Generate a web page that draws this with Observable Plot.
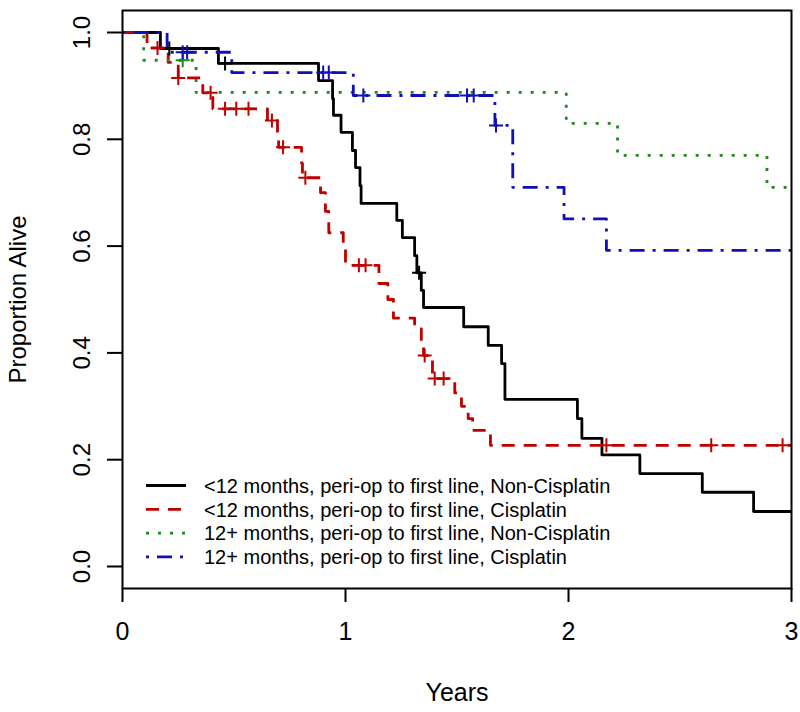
<!DOCTYPE html>
<html><head><meta charset="utf-8">
<script src="https://cdn.jsdelivr.net/npm/d3@7"></script>
<script src="https://cdn.jsdelivr.net/npm/@observablehq/plot@0.6"></script>
<style>
body{margin:0;background:#fff;}
#wrap{position:relative;width:800px;height:712px;}
#legend{position:absolute;left:0;top:0;pointer-events:none;}
</style></head><body><div id="wrap"></div>
<script>
// ---- data ----
const seriesNames = [
  "<12 months, peri-op to first line, Non-Cisplatin",
  "<12 months, peri-op to first line, Cisplatin",
  "12+ months, peri-op to first line, Non-Cisplatin",
  "12+ months, peri-op to first line, Cisplatin"
];
// series 1: <12 months, Non-Cisplatin
const s1Times = [0, 0.17, 0.43, 0.879, 0.942, 0.946, 0.98, 1.031, 1.045, 1.065, 1.07, 1.23, 1.255, 1.31, 1.32, 1.34, 1.35, 1.53, 1.64, 1.70, 1.715, 2.04, 2.06, 2.15, 2.32, 2.60, 2.83, 3.0];
const s1Surv  = [1, 0.970, 0.942, 0.910, 0.876, 0.845, 0.813, 0.779, 0.747, 0.713, 0.680, 0.648, 0.616, 0.582, 0.550, 0.517, 0.485, 0.449, 0.414, 0.380, 0.313, 0.277, 0.240, 0.209, 0.174, 0.139, 0.103, 0.103];
const s1CensT = [0.21, 0.46, 1.33];
const s1CensS = [0.970, 0.942, 0.550];
// series 2: <12 months, Cisplatin
const s2Times = [0, 0.11, 0.205, 0.25, 0.36, 0.405, 0.65, 0.695, 0.70, 0.803, 0.807, 0.888, 0.91, 0.925, 0.99, 1.0, 1.15, 1.19, 1.215, 1.31, 1.34, 1.35, 1.39, 1.49, 1.52, 1.55, 1.57, 1.65, 3.0];
const s2Surv  = [1, 0.971, 0.944, 0.915, 0.887, 0.857, 0.835, 0.810, 0.785, 0.755, 0.728, 0.700, 0.665, 0.625, 0.595, 0.564, 0.530, 0.500, 0.465, 0.445, 0.420, 0.395, 0.352, 0.325, 0.300, 0.277, 0.255, 0.227, 0.227];
const s2CensT = [0.157, 0.25, 0.395, 0.46, 0.51, 0.565, 0.67, 0.72, 0.82, 1.06, 1.09, 1.355, 1.40, 1.44, 2.17, 2.64, 2.96];
const s2CensS = [0.971, 0.915, 0.887, 0.857, 0.857, 0.857, 0.835, 0.785, 0.728, 0.564, 0.564, 0.395, 0.352, 0.352, 0.227, 0.227, 0.227];
// series 3: 12+ months, Non-Cisplatin
const s3Times = [0, 0.095, 0.33, 1.99, 2.22, 2.89, 3.0];
const s3Surv  = [1, 0.948, 0.888, 0.830, 0.770, 0.710, 0.710];
const s3CensT = [0.27];
const s3CensS = [0.948];
// series 4: 12+ months, Cisplatin
const s4Times = [0, 0.2, 0.49, 1.035, 1.67, 1.75, 1.98, 2.17, 3.0];
const s4Surv  = [1, 0.963, 0.925, 0.882, 0.826, 0.710, 0.651, 0.592, 0.592];
const s4CensT = [0.27, 0.29, 0.90, 0.925, 1.08, 1.545, 1.575, 1.675];
const s4CensS = [0.963, 0.963, 0.925, 0.925, 0.882, 0.882, 0.882, 0.826];

const xTicks = [0, 1, 2, 3];
const yTicks = [0, 0.2, 0.4, 0.6, 0.8, 1.0];

// ---- styles ----
const seriesColors = ["#000000", "#c00000", "#1e8a1e", "#1010b4"];
const seriesDash = [null, "13,9", "3,9", "3,8,15,8"];

const curves = [[s1Times, s1Surv], [s2Times, s2Surv], [s3Times, s3Surv], [s4Times, s4Surv]];
const censors = [[s1CensT, s1CensS], [s2CensT, s2CensS], [s3CensT, s3CensS], [s4CensT, s4CensS]];

const plusSymbol = {
  draw(ctx, size) {
    const r = Math.sqrt(size / Math.PI);
    ctx.moveTo(-r, 0); ctx.lineTo(r, 0);
    ctx.moveTo(0, -r); ctx.lineTo(0, r);
  }
};

const marks = [];
curves.forEach(([T, S], i) => {
  const rows = T.map((t, j) => ({t, s: S[j]}));
  marks.push(Plot.line(rows, {x: "t", y: "s", curve: "step-after", stroke: seriesColors[i],
    strokeWidth: 2.8, strokeDasharray: seriesDash[i] || undefined, strokeLinecap: "butt"}));
});
censors.forEach(([T, S], i) => {
  const rows = T.map((t, j) => ({t, s: S[j]}));
  marks.push(Plot.dot(rows, {x: "t", y: "s", symbol: plusSymbol, r: 7, stroke: seriesColors[i], strokeWidth: 2, fill: "none"}));
});

const chart = Plot.plot({
  width: 800, height: 712,
  marginLeft: 122, marginRight: 9, marginTop: 10, marginBottom: 124,
  style: {fontFamily: "'Liberation Sans', Arial, sans-serif", fontSize: "24px", color: "#000", background: "#fff"},
  x: {domain: [0, 3]},
  y: {domain: [-0.0412, 1.0412]},
  marks: [
    ...marks,
    Plot.frame({stroke: "#000", strokeWidth: 2}),
    Plot.axisX({ticks: xTicks, tickFormat: d => String(d), tickSize: 14, tickPadding: 20, strokeWidth: 2,
      fontSize: 25, label: "Years", labelAnchor: "center", labelOffset: 112, labelArrow: "none"}),
    Plot.axisY({ticks: yTicks, tickFormat: d3.format(".1f"), tickSize: 15, tickRotate: -90, tickPadding: 18, strokeWidth: 2,
      fontSize: 24, label: "Proportion Alive", labelAnchor: "center", labelOffset: 114, labelArrow: "none"})
  ]
});
const wrap = document.getElementById("wrap");
wrap.appendChild(chart);

// ---- legend (inside plot, no box) ----
const lg = d3.select(wrap).append("svg").attr("id", "legend").attr("width", 800).attr("height", 712)
  .style("font-family", "'Liberation Sans', Arial, sans-serif").style("font-size", "20px");
seriesNames.forEach((name, i) => {
  const y = 485.5 + 23.8 * i;
  lg.append("line").attr("x1", 146).attr("x2", 186).attr("y1", y).attr("y2", y)
    .attr("stroke", seriesColors[i]).attr("stroke-width", 2.8)
    .attr("stroke-dasharray", seriesDash[i] || null);
  lg.append("text").attr("x", 204).attr("y", y).attr("dy", "0.36em").attr("fill", "#000").text(name);
});
</script></body></html>
